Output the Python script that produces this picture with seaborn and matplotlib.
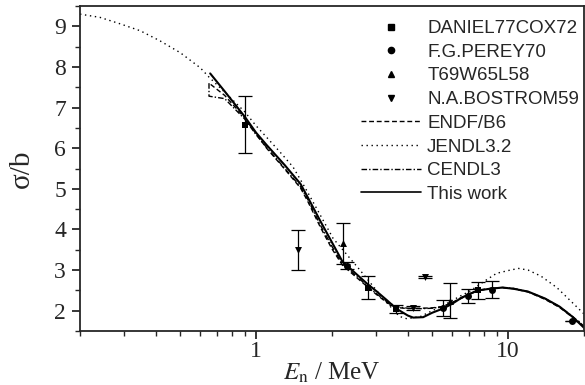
import numpy as np
import matplotlib
matplotlib.use("Agg")
import matplotlib.pyplot as plt
from matplotlib.lines import Line2D
import seaborn as sns
import pandas as pd

# ---------------- data ----------------
# evaluated / calculated curves (E in MeV, sigma in b)
work_E = [0.657, 0.75, 0.9, 1.0, 1.1, 1.3, 1.5, 1.6, 1.8, 2.0, 2.2, 2.5, 2.75, 3.0, 3.3, 3.6,
          4.0, 4.2, 4.6, 5.0, 5.5, 6.0, 6.5, 7.0, 7.6, 8.5, 9.5, 10.5, 12.0, 14.0, 16.0, 18.0, 20.0]
work_S = [7.84, 7.40, 6.78, 6.38, 6.08, 5.58, 5.12, 4.80, 4.20, 3.68, 3.21, 2.90, 2.67, 2.48, 2.26, 2.05,
          1.88, 1.83, 1.84, 1.95, 2.05, 2.17, 2.31, 2.41, 2.50, 2.54, 2.57, 2.54, 2.47, 2.30, 2.10, 1.85, 1.58]

endf_E = [0.66, 0.75, 0.9, 1.0, 1.1, 1.3, 1.5, 1.6, 1.8, 2.0, 2.2, 2.5, 2.75, 3.0, 3.3, 3.6,
          4.0, 4.5, 5.0, 5.5, 6.0, 6.5, 7.0, 7.6, 8.5, 9.5, 10.5, 12.0, 14.0, 16.0, 18.0, 20.0]
endf_S = [7.57, 7.30, 6.75, 6.35, 6.00, 5.48, 5.02, 4.70, 4.05, 3.52, 3.12, 2.82, 2.60, 2.40, 2.20, 2.08,
          2.05, 2.06, 2.07, 2.10, 2.20, 2.32, 2.42, 2.50, 2.55, 2.57, 2.54, 2.46, 2.28, 2.08, 1.84, 1.60]

jendl_E = [0.2, 0.24, 0.289, 0.347, 0.416, 0.5, 0.6, 0.65, 0.75, 0.9, 1.0, 1.1, 1.25, 1.4, 1.56, 1.64,
           2.02, 2.59, 3.19, 3.7, 3.97, 4.5, 5.0, 5.5, 6.0, 6.5, 7.0, 7.6, 8.3, 9.0, 10.2, 11.0, 12.0,
           13.5, 15.6, 17.5, 20.0]
jendl_S = [9.30, 9.22, 9.06, 8.89, 8.64, 8.35, 7.98, 7.75, 7.38, 6.90, 6.55, 6.27, 5.89, 5.54, 5.04, 4.80,
           3.78, 2.99, 2.30, 1.86, 1.80, 1.86, 2.00, 2.12, 2.25, 2.37, 2.47, 2.62, 2.78, 2.92, 3.00, 3.04, 3.00,
           2.85, 2.57, 2.27, 1.92]

cendl_E = [0.65, 0.65, 0.75, 0.9, 1.0, 1.1, 1.3, 1.5, 1.6, 1.8, 2.0, 2.2, 2.5, 2.75, 3.0, 3.3, 3.6,
           4.0, 4.5, 5.0, 5.5, 6.0, 6.5, 7.0, 7.6, 8.5, 9.5, 10.5, 12.0, 14.0, 16.0, 18.0, 20.0]
cendl_S = [7.60, 7.28, 7.22, 6.72, 6.33, 6.02, 5.50, 5.05, 4.75, 4.10, 3.58, 3.15, 2.85, 2.62, 2.42, 2.22, 2.10,
           2.06, 2.05, 2.06, 2.10, 2.20, 2.30, 2.40, 2.49, 2.55, 2.57, 2.55, 2.47, 2.30, 2.10, 1.86, 1.62]

# experimental data (E, sigma, error)
daniel_E = [0.905, 2.78, 3.6, 7.6]
daniel_S = [6.58, 2.57, 2.05, 2.50]
daniel_err = [0.70, 0.28, 0.10, 0.21]

perey_E = [2.30, 5.5, 6.93, 8.6, 18.0]
perey_S = [3.11, 2.07, 2.36, 2.52, 1.75]
perey_err = [0.08, 0.20, 0.18, 0.20, 0.0]

t69_E = [2.21, 5.9]
t69_S = [3.66, 2.25]
t69_err = [0.50, 0.42]

bostrom_E = [1.47, 4.2, 4.68]
bostrom_S = [3.49, 2.06, 2.83]
bostrom_err = [0.50, 0.05, 0.03]

curve_labels = ["ENDF/B6", "JENDL3.2", "CENDL3", "This work"]
point_labels = ["DANIEL77COX72", "F.G.PEREY70", "T69W65L58", "N.A.BOSTROM59"]

# ---------------- style ----------------
sns.set_theme(style="ticks")
plt.rcParams["font.family"] = ["Liberation Serif", "DejaVu Serif"]
plt.rcParams["mathtext.fontset"] = "stix"

fig = plt.figure(figsize=(5.85, 3.85), dpi=100)
ax = fig.add_axes([80 / 585, 54 / 385, 504 / 585, 325 / 385])

curves = [
    (endf_E, endf_S, (0, (3.5, 2.0)), 1.0),
    (jendl_E, jendl_S, (0, (1.0, 2.6)), 1.0),
    (cendl_E, cendl_S, (0, (4.0, 1.5, 1.0, 1.5)), 1.0),
    (work_E, work_S, "-", 1.5),
]
for E, S, ls, lw in curves:
    df = pd.DataFrame({"E": E, "S": S})
    sns.lineplot(data=df, x="E", y="S", ax=ax, color="black", linestyle=ls,
                 linewidth=lw, sort=False, estimator=None, legend=False)

points = [
    (daniel_E, daniel_S, daniel_err, "s", 4.5),
    (perey_E, perey_S, perey_err, "o", 5),
    (t69_E, t69_S, t69_err, "^", 5),
    (bostrom_E, bostrom_S, bostrom_err, "v", 5),
]
for E, S, err, m, ms in points:
    ax.errorbar(E, S, yerr=err, fmt="none", ecolor="black", elinewidth=0.9,
                capsize=5, capthick=0.9)
    df = pd.DataFrame({"E": E, "S": S})
    sns.scatterplot(data=df, x="E", y="S", ax=ax, marker=m, color="black",
                    s=ms ** 2, edgecolor="black", linewidth=0, legend=False)

ax.set_xscale("log")
ax.set_xlim(0.2, 20)
ax.set_ylim(1.5, 9.5)
ax.set_yticks([2, 3, 4, 5, 6, 7, 8, 9])
ax.set_yticks(np.arange(1.5, 9.51, 0.5), minor=True)
ax.set_xticks([1, 10])
ax.set_xticklabels(["1", "10"])
ax.tick_params(axis="both", which="major", direction="out", length=6, width=1.3,
               labelsize=17, pad=4)
ax.tick_params(axis="x", which="major", pad=1)
ax.tick_params(axis="both", which="minor", direction="out", length=3.5, width=1.0)
for sp in ax.spines.values():
    sp.set_linewidth(1.3)
    sp.set_visible(True)

ax.set_xlabel("$E_{\\mathrm{n}}$ / MeV", fontsize=18, labelpad=-1)
ax.set_ylabel("σ/b", fontsize=21, labelpad=14)

handles = [
    Line2D([], [], marker="s", linestyle="none", color="black", markersize=4),
    Line2D([], [], marker="o", linestyle="none", color="black", markersize=4.5),
    Line2D([], [], marker="^", linestyle="none", color="black", markersize=4.5),
    Line2D([], [], marker="v", linestyle="none", color="black", markersize=4.5),
    Line2D([], [], linestyle=(0, (3.5, 2.0)), color="black", linewidth=1.0),
    Line2D([], [], linestyle=(0, (1.0, 2.6)), color="black", linewidth=1.0),
    Line2D([], [], linestyle=(0, (4.0, 1.5, 1.0, 1.5)), color="black", linewidth=1.0),
    Line2D([], [], linestyle="-", color="black", linewidth=1.2),
]
leg = ax.legend(handles, point_labels + curve_labels, loc="upper right",
                bbox_to_anchor=(579 / 585, 1 - 20 / 385), bbox_transform=fig.transFigure,
                frameon=False, handlelength=3.2, handletextpad=0.35, labelspacing=0.35,
                borderpad=0, borderaxespad=0,
                prop={"family": ["Liberation Sans", "DejaVu Sans"], "size": 13.5})

fig.savefig("out.png", dpi=100)
